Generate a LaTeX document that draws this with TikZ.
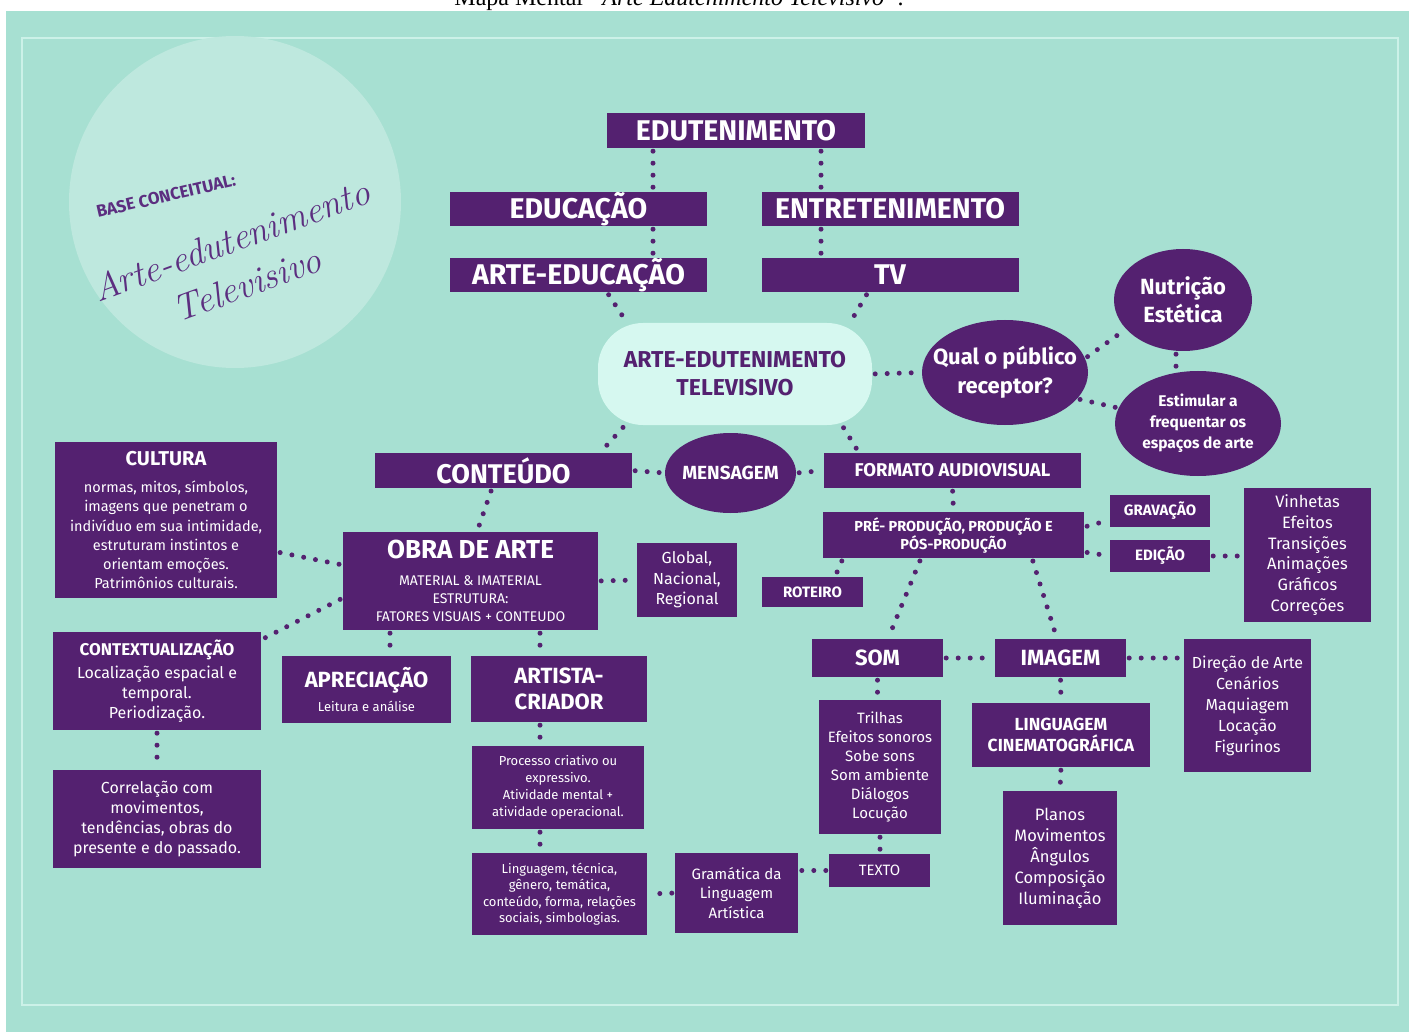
\documentclass[tikz,border=0pt]{standalone}
\usepackage{fontspec}
\setmainfont{Fira Sans}
\newfontfamily\captionserif{Liberation Serif}
\usetikzlibrary{shapes.geometric}
\definecolor{mintbg}{RGB}{167, 224, 210}
\definecolor{mintpale}{RGB}{190, 232, 222}
\definecolor{mintglow}{RGB}{214, 248, 240}
\definecolor{mintline}{RGB}{204, 241, 232}
\definecolor{plum}{RGB}{84, 33, 112}
\definecolor{plumink}{RGB}{92, 46, 128}
\newcommand{\fsz}[2]{\fontsize{#1}{#2}\selectfont}
\newcommand{\handfont}{\fontfamily{lmr}\fontshape{it}\selectfont}
\tikzset{
  box/.style={fill=plum, text=white, inner sep=0pt, align=center},
  titlebox/.style={box, minimum width=257pt, minimum height=34pt, font=\fsz{28.5}{32}\bfseries},
  bubble/.style={ellipse, fill=plum, text=white, inner sep=-20pt, align=center},
  link/.style={draw=plum, line width=5pt, line cap=round, dash pattern=on 0pt off 12pt,
               shorten <=3pt, shorten >=3pt},
}

\begin{document}
\begin{tikzpicture}[x=1pt, y=-1pt]
  \useasboundingbox (0,0) rectangle (1409,1032);
  % Caption strip, cut at the top
  \begin{scope}
    \clip (0,0) rectangle (1409,11);
    \node[anchor=base, inner sep=0pt, font=\captionserif\fsz{24}{28}] (caption) at (679,6)
         {Mapa Mental \textit{“Arte Edutenimento Televisivo”}.};
  \end{scope}
  % Background, frame and concept circle
  \fill[mintbg]                          (6,11) rectangle (1409,1032);
  \draw[mintline, line width=2.5pt]      (22,38) rectangle (1398,1005);
  \fill[mintpale]                        (235,202) circle (166);
  \node[rotate=13, text=plumink, font=\fsz{17}{20}\bfseries]  (basetag)  at (166,196) {BASE CONCEITUAL:};
  \node[rotate=20, text=plumink, align=center, font=\handfont\fsz{37}{47}] (handname) at (239,262)
       {Arte-edutenimento\\Televisivo};

  % Top chain
  \node[titlebox, minimum width=258pt, minimum height=35pt] (edut) at (736,130.5) {EDUTENIMENTO};
  \node[titlebox] (educ)   at (578.5,209) {EDUCAÇÃO};
  \node[titlebox] (entret) at (890,209)   {ENTRETENIMENTO};
  \node[titlebox] (artedu) at (578.5,275) {ARTE-EDUCAÇÃO};
  \node[titlebox] (tv)     at (890,275)   {TV};

  % Centre and audience
  \node[fill=mintglow, rounded corners=45pt, minimum width=274pt, minimum height=102pt, text=plum,
        align=center, font=\fsz{23}{28}\bfseries] (hub) at (735,374) {ARTE-EDUTENIMENTO\\TELEVISIVO};
  \node[bubble, minimum width=166pt, minimum height=105pt, font=\fsz{22}{29}\bfseries]   (publico)  at (1005,372.5) {Qual o público\\receptor?};
  \node[bubble, minimum width=138pt, minimum height=102pt, font=\fsz{22}{28}\bfseries]   (nutricao) at (1183,300)   {Nutrição\\Estética};
  \node[bubble, minimum width=166pt, minimum height=105pt, font=\fsz{15.5}{21}\bfseries] (estimulo) at (1198,423.5) {Estimular a\\frequentar os\\espaços de arte};

  % Middle row
  \node[titlebox, minimum height=35pt, font=\fsz{27}{30}\bfseries] (conteudo) at (503.5,470.5) {CONTEÚDO};
  \node[bubble, minimum width=131pt, minimum height=80pt, font=\fsz{19}{22}\bfseries] (mensagem) at (730.5,473) {MENSAGEM};
  \node[box, minimum width=257pt, minimum height=35pt, font=\fsz{18.5}{22}\bfseries] (formato) at (952.5,470.5) {FORMATO AUDIOVISUAL};

  % Art branch
  \node[box, minimum width=222pt, minimum height=156pt, font=\fsz{14.5}{19.3}] (cultura) at (166,520)
       {{\fsz{20}{24}\bfseries CULTURA}\\[8pt]normas, mitos, símbolos,\\imagens que  penetram o\\indivíduo em sua intimidade,\\estruturam instintos e\\orientam emoções.\\Patrimônios culturais.};
  \node[box, minimum width=255pt, minimum height=98pt, font=\fsz{14}{18}] (obra) at (470.5,581)
       {{\fsz{26}{30}\bfseries OBRA DE ARTE}\\[9pt]MATERIAL \& IMATERIAL\\ESTRUTURA:\\FATORES VISUAIS + CONTEUDO};
  \node[box, minimum width=100pt, minimum height=74pt, font=\fsz{16}{20.5}] (global) at (687,580) {Global,\\Nacional,\\Regional};
  \node[box, minimum width=208pt, minimum height=98pt, font=\fsz{16}{20}] (contexto) at (157,681)
       {{\fsz{17}{21}\bfseries CONTEXTUALIZAÇÃO}\\[3pt]Localização espacial e\\temporal.\\Periodização.};
  \node[box, minimum width=208pt, minimum height=98pt, font=\fsz{16}{20}] (correlacao) at (157,819)
       {Correlação com\\movimentos,\\tendências, obras do\\presente e do passado.};
  \node[box, minimum width=169pt, minimum height=67pt, font=\fsz{13}{16}] (apreciacao) at (366.5,689.5)
       {{\fsz{22}{26}\bfseries APRECIAÇÃO}\\[7pt]Leitura e análise};
  \node[box, minimum width=176pt, minimum height=66pt, font=\fsz{22}{26}\bfseries] (artista) at (559,689) {ARTISTA-\\CRIADOR};
  \node[box, minimum width=172pt, minimum height=83pt, font=\fsz{13}{17}] (processo) at (558,787.5)
       {Processo criativo ou\\expressivo.\\Atividade mental +\\atividade operacional.};
  \node[box, minimum width=175pt, minimum height=82pt, font=\fsz{13}{16.5}] (lingtec) at (559.5,894)
       {Linguagem, técnica,\\gênero, temática,\\conteúdo, forma, relações\\sociais, simbologias.};
  \node[box, minimum width=123pt, minimum height=80pt, font=\fsz{15}{19.5}] (gramatica) at (736.5,893) {Gramática da\\Linguagem\\Artística};

  % Audiovisual branch
  \node[box, minimum width=261pt, minimum height=46pt, font=\fsz{14.5}{18}\bfseries] (producao) at (953.5,535)
       {PRÉ- PRODUÇÃO, PRODUÇÃO E\\PÓS-PRODUÇÃO};
  \node[box, minimum width=100pt, minimum height=32pt, font=\fsz{15}{18}\bfseries] (gravacao) at (1160,511)   {GRAVAÇÃO};
  \node[box, minimum width=100pt, minimum height=32pt, font=\fsz{15}{18}\bfseries] (edicao)   at (1160,556)   {EDIÇÃO};
  \node[box, minimum width=127pt, minimum height=134pt, font=\fsz{16.5}{20.8}] (vinhetas) at (1307.5,555)
       {Vinhetas\\Efeitos\\Transições\\Animações\\Gráficos\\Correções};
  \node[box, minimum width=101pt, minimum height=30pt, font=\fsz{15}{18}\bfseries] (roteiro)  at (812.5,592)   {ROTEIRO};
  \node[box, minimum width=131pt, minimum height=38pt, font=\fsz{22}{26}\bfseries] (som)      at (877.5,658)   {SOM};
  \node[box, minimum width=131pt, minimum height=38pt, font=\fsz{22}{26}\bfseries] (imagem)   at (1060.5,658)  {IMAGEM};
  \node[box, minimum width=122pt, minimum height=134pt, font=\fsz{15}{19}] (trilhas) at (880,767)
       {Trilhas\\Efeitos sonoros\\Sobe sons\\Som ambiente\\Diálogos\\Locução};
  \node[box, minimum width=101pt, minimum height=33pt, font=\fsz{15}{18}] (texto) at (879.5,870.5) {TEXTO};
  \node[box, minimum width=178pt, minimum height=64pt, font=\fsz{17.5}{21}\bfseries] (lingcine) at (1061,735)
       {LINGUAGEM\\CINEMATOGRÁFICA};
  \node[box, minimum width=114pt, minimum height=134pt, font=\fsz{16.5}{21}] (planos) at (1060,858)
       {Planos\\Movimentos\\Ângulos\\Composição\\Iluminação};
  \node[box, minimum width=127pt, minimum height=133pt, font=\fsz{16}{21}] (direcao) at (1247.5,705.5)
       {Direção de Arte\\Cenários\\Maquiagem\\Locação\\Figurinos};

  % Dotted links: top chain
  \draw[link] ([xshift=-83pt]edut.south)    -- ([xshift=74.5pt]educ.north);
  \draw[link] ([xshift=85pt]edut.south)     -- ([xshift=-69pt]entret.north);
  \draw[link] ([xshift=74.5pt]educ.south)   -- ([xshift=74.5pt]artedu.north);
  \draw[link] ([xshift=-69pt]entret.south)  -- ([xshift=-69pt]tv.north);
  \draw[link] ([xshift=28.5pt]artedu.south) -- ([xshift=-108pt]hub.north);
  \draw[link] ([xshift=-22pt]tv.south)      -- ([xshift=115pt]hub.north);
  % centre and audience
  \draw[link] (hub.east)                    -- (publico.west);
  \draw[link] (publico.10)                  -- (nutricao.207);
  \draw[link] ([xshift=-7pt]nutricao.south) -- ([xshift=-22pt]estimulo.north);
  \draw[link] (publico.-20)                 -- (estimulo.169);
  \draw[link] ([xshift=-110pt]hub.south)    -- ([xshift=96.5pt]conteudo.north);
  \draw[link] ([xshift=107pt]hub.south)     -- ([xshift=-93.5pt]formato.north);
  \draw[link] (conteudo.east)               -- (mensagem.west);
  \draw[link] (mensagem.east)               -- (formato.west);
  % art branch
  \draw[link] ([xshift=-11.5pt]conteudo.south) -- ([xshift=6.5pt]obra.north);
  \draw[link] ([yshift=-32pt]cultura.east)     -- ([yshift=16pt]obra.west);
  \draw[link] ([yshift=-17pt]obra.west)        -- ([yshift=-8pt]contexto.north east);
  \draw[link] (contexto.south)                 -- (correlacao.north);
  \draw[link] ([xshift=-80.5pt]obra.south)     -- ([xshift=23.5pt]apreciacao.north);
  \draw[link] ([xshift=69.5pt]obra.south)      -- ([xshift=-19pt]artista.north);
  \draw[link] (obra.east)                      -- (global.west);
  \draw[link] ([xshift=-19pt]artista.south)    -- ([xshift=-18pt]processo.north);
  \draw[link] ([xshift=-18pt]processo.south)   -- ([xshift=-19.5pt]lingtec.north);
  \draw[link] (gramatica.west)                 -- (lingtec.east);
  % audiovisual branch
  \draw[link] (formato.south)                    -- (producao.north);
  \draw[link] ([yshift=8pt]producao.east)        -- ([yshift=-9pt]gravacao.west);
  \draw[link] ([yshift=-17pt]producao.east)      -- (edicao.west);
  \draw[link] (edicao.east)                      -- (edicao.east -| vinhetas.west);
  \draw[link] ([xshift=-110.5pt]producao.south)  -- ([xshift=22.5pt]roteiro.north);
  \draw[link] ([xshift=-32.5pt]producao.south)   -- ([xshift=10.5pt]som.north);
  \draw[link] ([xshift=78.5pt]producao.south)    -- ([xshift=-3.5pt]imagem.north);
  \draw[link] (som.east)                         -- (imagem.west);
  \draw[link] (imagem.east)                      -- (imagem.east -| direcao.west);
  \draw[link] (som.south)                        -- (som.south |- trilhas.north);
  \draw[link] (trilhas.south)                    -- (trilhas.south |- texto.north);
  \draw[link] (texto.west)                       -- (texto.west -| gramatica.east);
  \draw[link] (imagem.south)                     -- (lingcine.north);
  \draw[link] (lingcine.south)                   -- (planos.north);
\end{tikzpicture}
\end{document}
